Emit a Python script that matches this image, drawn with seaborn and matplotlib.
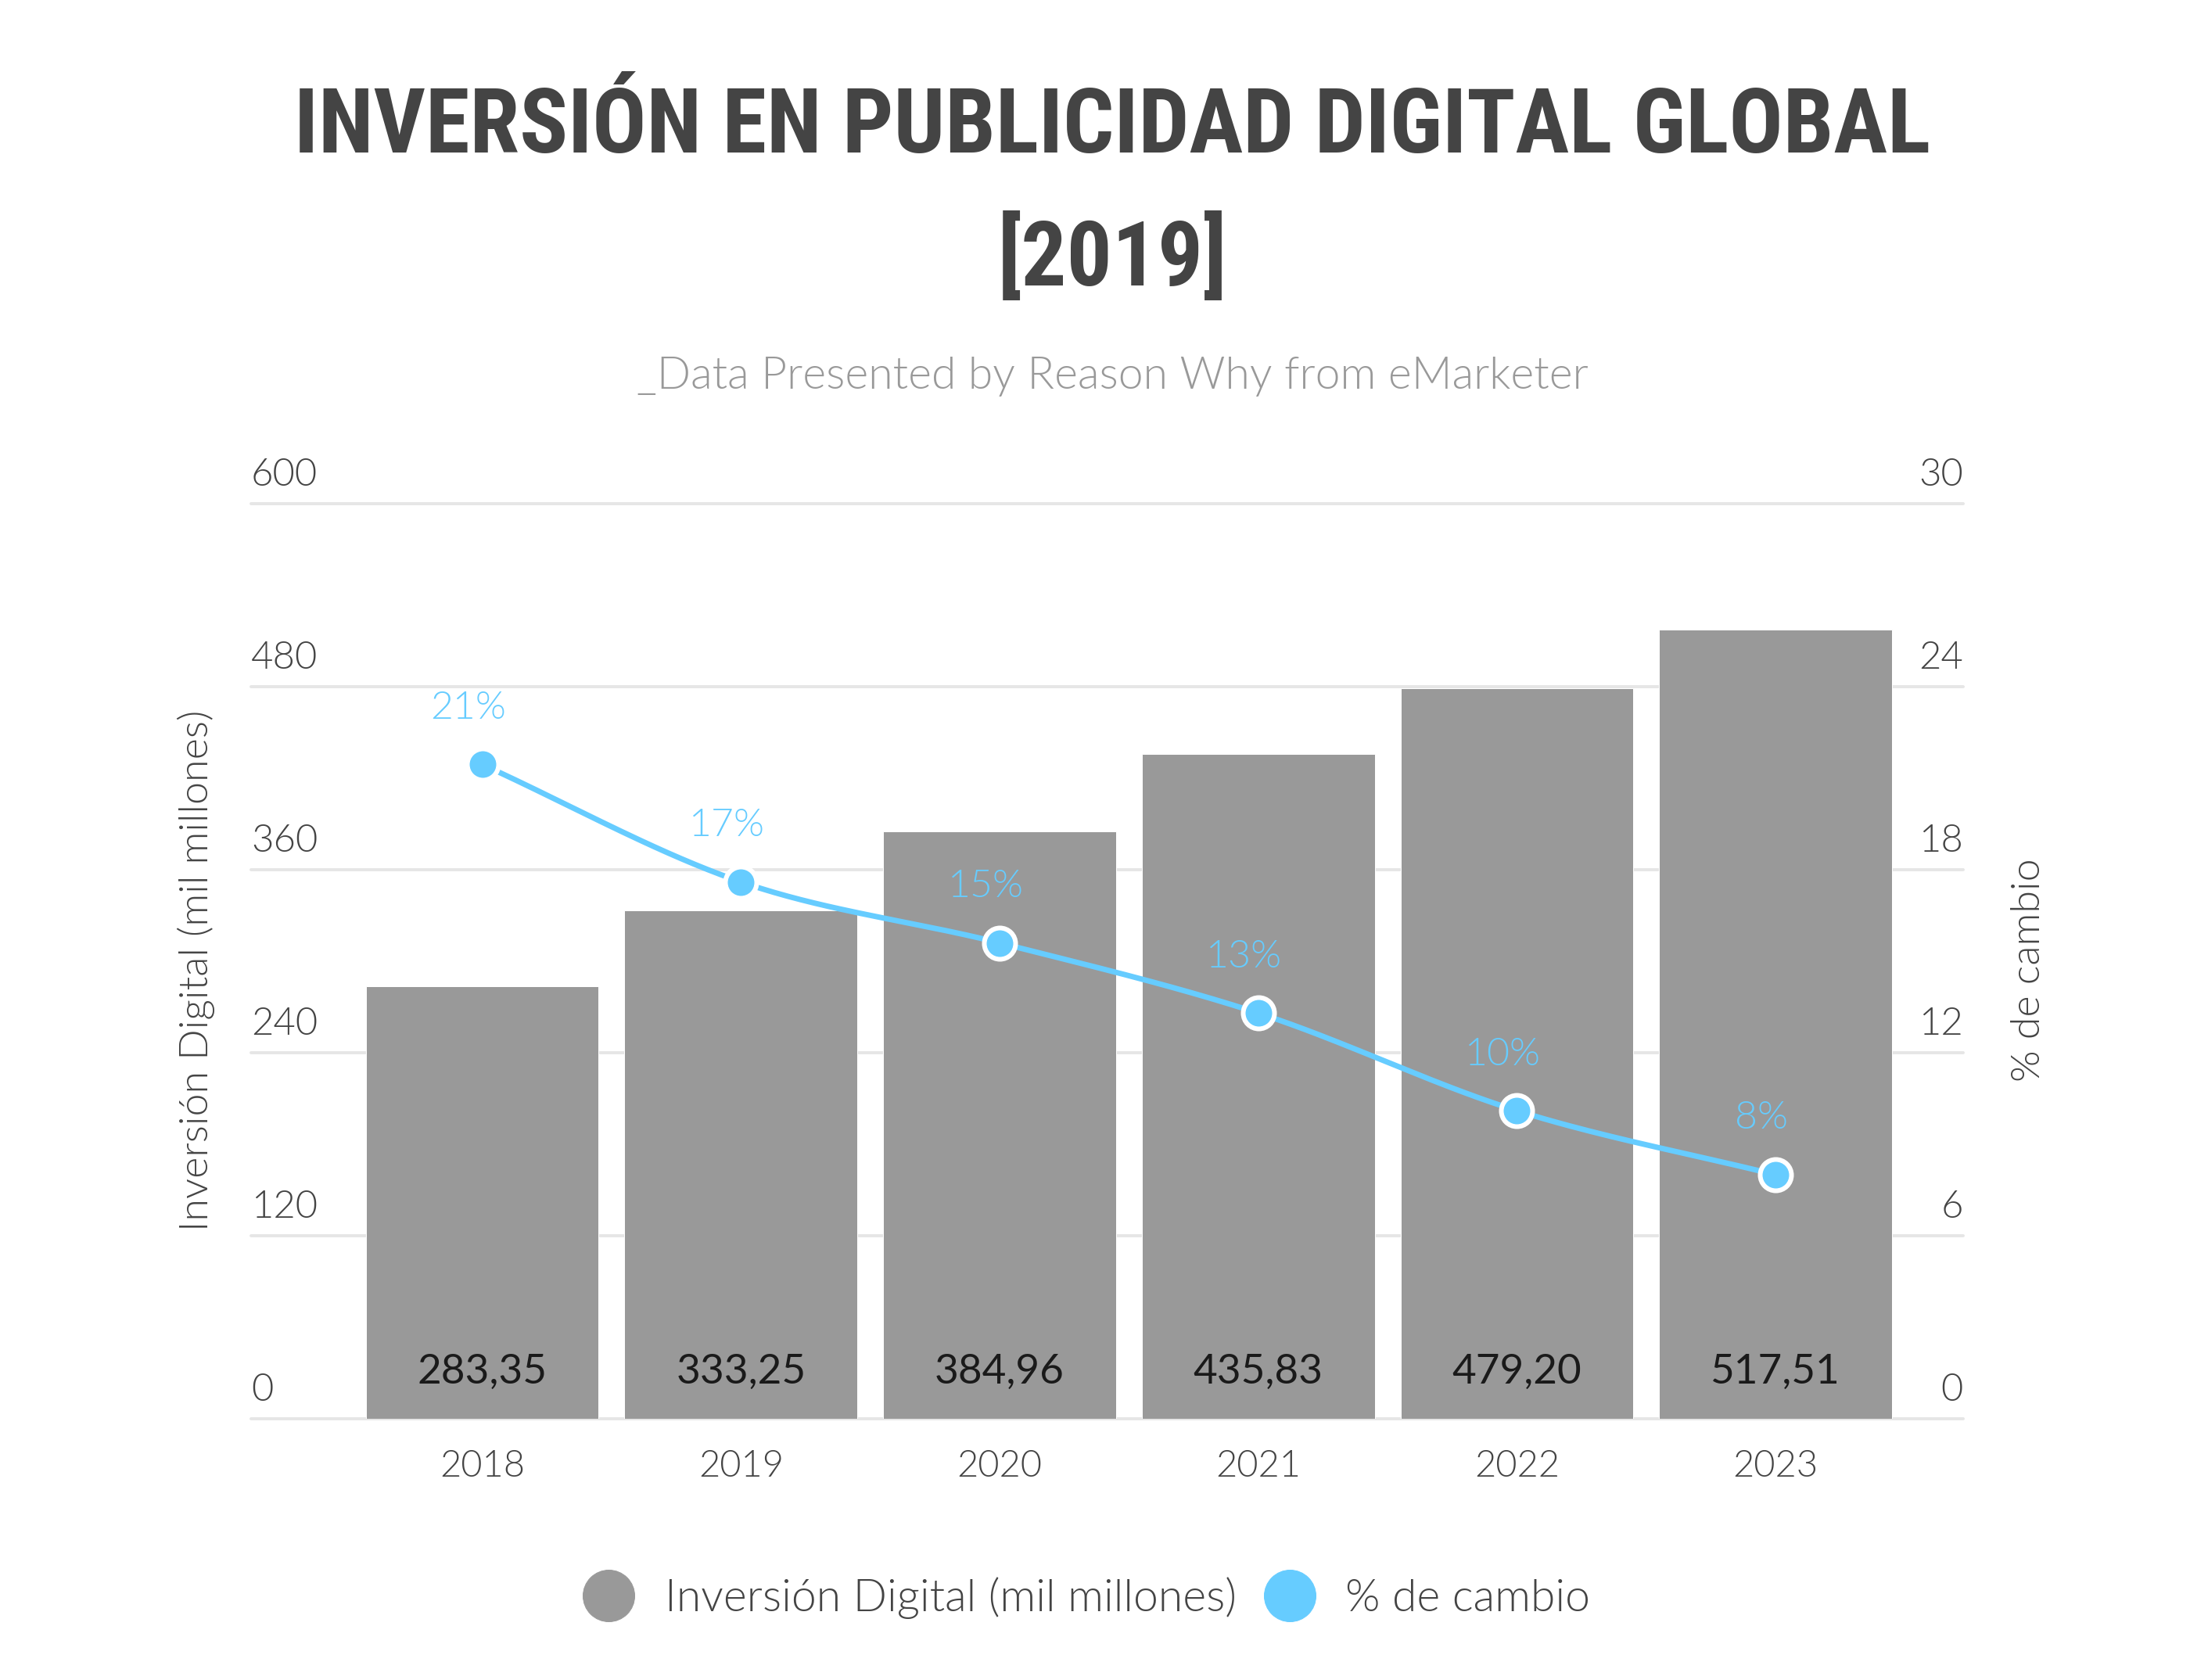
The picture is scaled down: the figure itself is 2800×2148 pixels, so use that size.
import numpy as np
import pandas as pd
import matplotlib
matplotlib.use("Agg")
import matplotlib.pyplot as plt
import seaborn as sns
from matplotlib.lines import Line2D
from matplotlib import font_manager as fm

# ---------------- data ----------------
years = ["2018", "2019", "2020", "2021", "2022", "2023"]
inversion = [283.35, 333.25, 384.96, 435.83, 479.20, 517.51]
inversion_labels = ["283,35", "333,25", "384,96", "435,83", "479,20", "517,51"]
cambio = [21.45, 17.6, 15.6, 13.3, 10.1, 8.0]
cambio_labels = ["21%", "17%", "15%", "13%", "10%", "8%"]
left_ticks = [0, 120, 240, 360, 480, 600]
right_ticks = [0, 6, 12, 18, 24, 30]

title_lines = ["INVERSIÓN EN PUBLICIDAD DIGITAL GLOBAL", "[2019]"]
subtitle = "_Data Presented by Reason Why from eMarketer"
left_label = "Inversión Digital (mil millones)"
right_label = "% de cambio"
legend_labels = ["Inversión Digital (mil millones)", "% de cambio"]

# ---------------- style ----------------
BAR = "#999999"
BLUE = "#66CCFF"
TXT = "#444444"
GRID = "#e6e6e6"
LIGHT = 300

sns.set_theme(style="white")
plt.rcParams["font.family"] = ["Lato", "DejaVu Sans"]

installed = {f.name for f in fm.fontManager.ttflist}
title_family = [f for f in ["Roboto Condensed", "Liberation Sans Narrow",
                            "Roboto", "DejaVu Sans"] if f in installed]

DPI = 72
fig = plt.figure(figsize=(2800 / DPI, 2148 / DPI), dpi=DPI)
fig.patch.set_facecolor("white")
ax = fig.add_axes([0.1146, 0.1555, 0.7818, 0.5447])

df = pd.DataFrame({"year": years, "inv": inversion})
sns.barplot(data=df, x="year", y="inv", color=BAR, width=0.9, saturation=1,
            ax=ax, zorder=2)

ax.set_ylim(0, 600)
ax.set_xlim(-0.894, 5.725)
ax.set_yticks(left_ticks)
ax.set_yticklabels([])
ax.set_axisbelow(True)
ax.yaxis.grid(True, color=GRID, lw=4)
ax.xaxis.grid(False)
for gl in ax.get_ygridlines():
    gl.set_clip_on(False)
for s in ax.spines.values():
    s.set_visible(False)
ax.tick_params(axis="both", length=0)
ax.tick_params(axis="x", pad=40, labelsize=47, labelcolor=TXT)
for lab in ax.get_xticklabels():
    lab.set_fontweight(LIGHT)
ax.set_xlabel("")
ax.set_ylabel(left_label, fontsize=52, color=TXT, fontweight=LIGHT)
ax.yaxis.set_label_coords(-0.021, 0.49)

for t in left_ticks:
    ax.annotate(str(t), xy=(0, t), xycoords=ax.get_yaxis_transform(),
                xytext=(0, 14), textcoords="offset points", ha="left",
                va="bottom", fontsize=49, color=TXT, fontweight=LIGHT)

for i, lbl in enumerate(inversion_labels):
    ax.annotate(lbl, xy=(i, 0), xytext=(0, 60), textcoords="offset points",
                ha="center", va="center", fontsize=53, color="#1a1a1a")

# secondary axis
ax2 = ax.twinx()
ax2.set_ylim(0, 30)
ax2.set_yticks(right_ticks)
ax2.set_yticklabels([])
ax2.grid(False)
for s in ax2.spines.values():
    s.set_visible(False)
ax2.tick_params(axis="both", length=0)
ax2.set_ylabel(right_label, fontsize=52, color=TXT, rotation=90, fontweight=LIGHT)
ax2.yaxis.set_label_coords(1.028, 0.49)

for t in right_ticks:
    ax2.annotate(str(t), xy=(1, t), xycoords=ax2.get_yaxis_transform(),
                 xytext=(0, 14), textcoords="offset points", ha="right",
                 va="bottom", fontsize=49, color=TXT, fontweight=LIGHT)

# smooth curve through the points (Catmull-Rom)
px = np.arange(len(cambio), dtype=float)
py = np.array(cambio, dtype=float)
P = np.column_stack([px, py])
Pext = np.vstack([P[0] - (P[1] - P[0]), P, P[-1] + (P[-1] - P[-2])])
curve = []
tt = np.linspace(0, 1, 40)
for k in range(1, len(Pext) - 2):
    p0, p1, p2, p3 = Pext[k - 1], Pext[k], Pext[k + 1], Pext[k + 2]
    seg = 0.5 * ((2 * p1)[None, :] + (-p0 + p2)[None, :] * tt[:, None]
                 + (2 * p0 - 5 * p1 + 4 * p2 - p3)[None, :] * tt[:, None] ** 2
                 + (-p0 + 3 * p1 - 3 * p2 + p3)[None, :] * tt[:, None] ** 3)
    curve.append(seg)
curve = np.vstack(curve)
ax2.plot(curve[:, 0], curve[:, 1], color=BLUE, lw=7, zorder=3,
         solid_capstyle="round")
ax2.plot(px, py, "o", ms=40, mfc=BLUE, mec="white", mew=6, zorder=4)

for i, (v, lbl) in enumerate(zip(cambio, cambio_labels)):
    ax2.annotate(lbl, xy=(i, v), xytext=(-18, 72), textcoords="offset points",
                 ha="center", va="center", fontsize=50, color=BLUE,
                 fontweight=LIGHT)

# titles
TX = 0.508
t1 = fig.text(TX, 0.924, title_lines[0], ha="center", va="center", fontsize=110,
              fontweight="bold", color=TXT, family=title_family)
t2 = fig.text(TX, 0.846, title_lines[1], ha="center", va="center", fontsize=110,
              fontweight="bold", color=TXT, family=title_family)
# fit the first title line to the reference width (~2092 px)
fig.canvas.draw()
w = t1.get_window_extent().width
scale = 2092.0 / w
t1.set_fontsize(110 * scale)
t2.set_fontsize(110 * scale)

fig.text(TX, 0.776, subtitle, ha="center", va="center", fontsize=57,
         color="#999999", fontweight=LIGHT)

# legend
handles = [
    Line2D([], [], ls="", marker="o", ms=66, mfc=BAR, mec=BAR),
    Line2D([], [], ls="", marker="o", ms=66, mfc=BLUE, mec=BLUE),
]
leg = fig.legend(handles, legend_labels, loc="center", bbox_to_anchor=(0.497, 0.049),
                 ncol=2, frameon=False, handlelength=1.0,
                 handletextpad=0.75, columnspacing=0.7, labelcolor=TXT,
                 prop={"size": 57, "weight": LIGHT})

fig.savefig("out.png", dpi=DPI, facecolor="white")
